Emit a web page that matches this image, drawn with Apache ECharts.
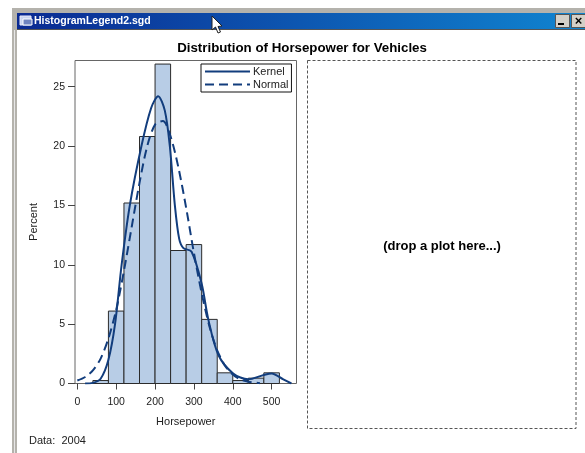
<!DOCTYPE html>
<html>
<head>
<meta charset="utf-8">
<title>HistogramLegend2</title>
<script src="https://cdn.jsdelivr.net/npm/echarts@6/dist/echarts.min.js"></script>
<style>
  html, body { margin: 0; padding: 0; background: #fff; }
  #chart { width: 585px; height: 453px; }
</style>
</head>
<body>
<div id="chart"></div>
<script>
const binStarts = [40, 80, 120, 160, 200, 240, 280, 320, 360, 400, 440, 480];
const binWidth = 40;
const percents = [0.25, 6.1, 15.2, 20.8, 26.9, 11.2, 11.7, 5.4, 0.9, 0.25, 0.45, 0.9];

const kernelX = [20, 40, 60, 80, 97, 114, 135, 165, 190, 208, 225, 238, 251, 262, 273, 294, 320, 337, 363, 401, 440, 478, 500, 530, 551];
const kernelY = [0, 0.05, 0.4, 2, 5, 10, 15, 20, 23.2, 24.2, 23, 20, 15, 12.2, 11.4, 11.1, 8.4, 5.4, 2.4, 0.85, 0.35, 0.7, 0.85, 0.35, 0];

const normalX = [0, 20, 40, 60, 80, 100, 120, 140, 160, 180, 200, 220, 240, 260, 280, 300, 320, 340, 360, 380, 400, 420, 440, 470];
const normalY = [0.25, 0.55, 1.1, 2.1, 3.8, 6.2, 9.5, 13.2, 16.9, 20, 21.8, 22.1, 20.8, 18.2, 14.8, 11, 7.6, 4.8, 2.8, 1.5, 0.75, 0.35, 0.15, 0.03];

const xTicks = [0, 100, 200, 300, 400, 500];
const yTicks = [0, 5, 10, 15, 20, 25];

const textColor = '#222';
const lineColor = '#123d7d';

const chart = echarts.init(document.getElementById('chart'), null, { renderer: 'canvas' });

const option = {
  animation: false,
  backgroundColor: '#fff',
  textStyle: { fontFamily: 'Liberation Sans' },
  grid: { left: 75, top: 60.5, width: 221.5, height: 323, show: true, borderColor: '#666', borderWidth: 1, backgroundColor: 'transparent' },
  xAxis: {
    type: 'value', min: -6, max: 564,
    name: 'Horsepower', nameLocation: 'middle', nameGap: 33,
    nameTextStyle: { fontSize: 11, color: textColor },
    splitLine: { show: false },
    axisLine: { show: false, onZero: false },
    axisTick: { length: 6, customValues: xTicks, lineStyle: { color: '#444' } },
    axisLabel: { fontSize: 10.5, color: textColor, margin: 13, customValues: xTicks }
  },
  yAxis: {
    type: 'value', min: 0, max: 27.2,
    name: 'Percent', nameLocation: 'middle', nameGap: 36,
    nameTextStyle: { fontSize: 11, color: textColor },
    splitLine: { show: false },
    axisLine: { show: false, onZero: false },
    axisTick: { length: 7, customValues: yTicks, lineStyle: { color: '#444' } },
    axisLabel: { fontSize: 10.5, color: textColor, margin: 10, customValues: yTicks }
  },
  legend: {
    orient: 'vertical', left: 201, top: 64,
    padding: [2, 3, 2, 3], itemGap: 2,
    itemWidth: 45, itemHeight: 12,
    borderColor: '#111', borderWidth: 1, backgroundColor: '#fff',
    itemStyle: { color: 'rgba(0,0,0,0)', borderWidth: 0 },
    textStyle: { fontSize: 11, color: textColor, padding: [0, 0, 0, -2] },
    data: ['Kernel', 'Normal']
  },
  series: [
    {
      type: 'custom', name: 'Percent', silent: true,
      data: binStarts.map((b, i) => [b, percents[i]]),
      encode: { x: 0, y: 1 },
      renderItem: (params, api) => {
        const p0 = api.coord([api.value(0), 0]);
        const p1 = api.coord([api.value(0) + binWidth, api.value(1)]);
        return {
          type: 'rect',
          shape: { x: p0[0], y: p1[1], width: p1[0] - p0[0], height: p0[1] - p1[1] },
          style: { fill: '#b8cde6', stroke: '#2b2b2b', lineWidth: 1 }
        };
      }
    },
    {
      type: 'line', name: 'Kernel', smooth: 0.3, symbol: 'none',
      data: kernelX.map((x, i) => [x, kernelY[i]]),
      lineStyle: { color: lineColor, width: 2 }, itemStyle: { color: lineColor }
    },
    {
      type: 'line', name: 'Normal', smooth: 0.3, symbol: 'none',
      data: normalX.map((x, i) => [x, normalY[i]]),
      lineStyle: { color: lineColor, width: 2, type: [9, 5] }, itemStyle: { color: lineColor }
    }
  ],
  graphic: [
    // window chrome
    { type: 'rect', silent: true, z: -2, shape: { x: 12, y: 8, width: 573, height: 445 }, style: { fill: '#b4b2ac' } },
    { type: 'rect', silent: true, z: -1, shape: { x: 17, y: 30, width: 568, height: 423 }, style: { fill: '#fff' } },
    { type: 'line', silent: true, z: -1, shape: { x1: 14.5, y1: 30, x2: 14.5, y2: 453 }, style: { stroke: '#e6e6e6', lineWidth: 1 } },
    {
      type: 'rect', silent: true, z: 1, shape: { x: 17, y: 13, width: 568, height: 16 },
      style: { fill: new echarts.graphic.LinearGradient(0, 0, 1, 0, [{ offset: 0, color: '#0a2a92' }, { offset: 1, color: '#1084d0' }]) }
    },
    { type: 'line', silent: true, z: 1, shape: { x1: 17, y1: 29.5, x2: 585, y2: 29.5 }, style: { stroke: '#555', lineWidth: 1 } },
    // title bar icon
    { type: 'rect', silent: true, z: 2, shape: { x: 20, y: 16, width: 11, height: 9 }, style: { fill: '#c8d4f0', stroke: '#e8e8f8', lineWidth: 1 } },
    { type: 'rect', silent: true, z: 2, shape: { x: 23, y: 19, width: 9, height: 6 }, style: { fill: '#6f84c0', stroke: '#fff', lineWidth: 1 } },
    { type: 'text', silent: true, z: 2, style: { x: 34, y: 21, text: 'HistogramLegend2.sgd', fill: '#fff', font: 'bold 10.5px "Liberation Sans"', verticalAlign: 'middle' } },
    // window buttons
    { type: 'rect', silent: true, z: 2, shape: { x: 555.5, y: 14.5, width: 14, height: 13 }, style: { fill: '#d4d0c8', stroke: '#555', lineWidth: 1 } },
    { type: 'rect', silent: true, z: 3, shape: { x: 558, y: 23, width: 6, height: 2 }, style: { fill: '#000' } },
    { type: 'rect', silent: true, z: 2, shape: { x: 571.5, y: 14.5, width: 14, height: 13 }, style: { fill: '#d4d0c8', stroke: '#555', lineWidth: 1 } },
    { type: 'text', silent: true, z: 3, style: { x: 578.5, y: 21, text: '×', fill: '#000', font: 'bold 13px "Liberation Sans"', align: 'center', verticalAlign: 'middle' } },
    // mouse cursor
    {
      type: 'polygon', silent: true, z: 5,
      shape: { points: [[212, 16], [212, 30], [215.5, 27], [218, 33], [220.5, 32], [218, 26.5], [222, 26]] },
      style: { fill: '#fff', stroke: '#222', lineWidth: 1 }
    },
    // text outside the plot
    { type: 'text', silent: true, z: 2, style: { x: 302, y: 48, text: 'Distribution of Horsepower for Vehicles', fill: '#000', font: 'bold 13.3px "Liberation Sans"', align: 'center', verticalAlign: 'middle' } },
    { type: 'text', silent: true, z: 2, style: { x: 29, y: 441, text: 'Data:  2004', fill: textColor, font: '11px "Liberation Sans"', verticalAlign: 'middle' } },
    // empty drop panel
    { type: 'rect', silent: true, z: 2, shape: { x: 307.5, y: 60.5, width: 268.5, height: 368 }, style: { fill: '#fff', stroke: '#555', lineWidth: 1, lineDash: [3, 2] } },
    { type: 'text', silent: true, z: 3, style: { x: 442, y: 246, text: '(drop a plot here...)', fill: '#000', font: 'bold 13px "Liberation Sans"', align: 'center', verticalAlign: 'middle' } }
  ]
};

chart.setOption(option);
</script>
</body>
</html>
